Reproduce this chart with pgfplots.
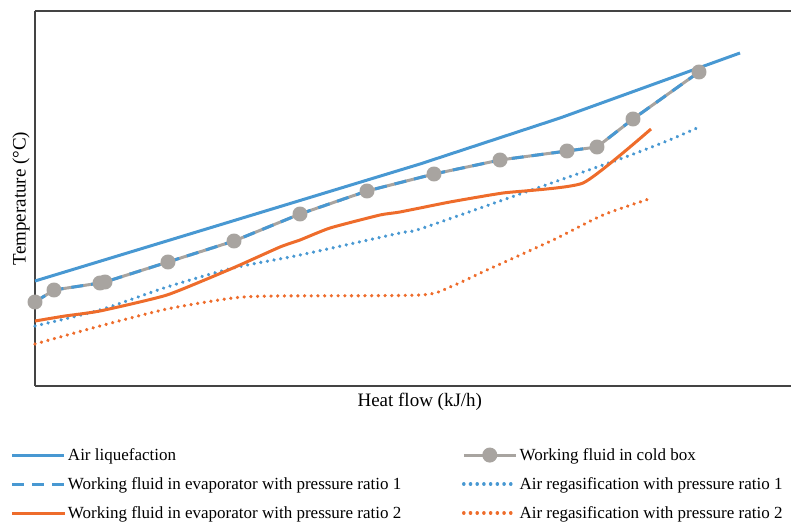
\documentclass[border=0pt]{standalone}
\usepackage{pgfplots}
\pgfplotsset{compat=1.18}
\usepackage{fontspec}
\setmainfont{Liberation Serif}
\definecolor{cblue}{RGB}{72,152,210}
\definecolor{corange}{RGB}{238,108,43}
\definecolor{cgray}{RGB}{168,164,160}
\definecolor{cspine}{RGB}{68,68,68}
\tikzset{mydots/.style={line width=3.6pt, line cap=round, dash pattern=on 0.01pt off 6.7pt}}
\begin{document}
\begin{tikzpicture}[x=1pt,y=1pt]
\useasboundingbox (0,0) rectangle (791,524);
\begin{axis}[
 at={(35pt,138pt)}, anchor=south west,
 scale only axis, width=756pt, height=375pt,
 xmin=0, xmax=756, ymin=0, ymax=375,
 axis x line=box, axis y line=left,
 axis line style={-, draw=cspine, line width=1.5pt},
 xtick=\empty, ytick=\empty,
 xlabel={Heat flow (kJ/h)}, ylabel={Temperature (°C)},
 every axis x label/.style={at={(axis description cs:0.509,-0.043)}, anchor=center, font=\fontsize{19}{22}\selectfont},
 every axis y label/.style={at={(axis description cs:-0.0185,0.5)}, rotate=90, anchor=center, font=\fontsize{19}{22}\selectfont},
 clip=false,
 legend columns=2,
 legend cell align=left,
 legend style={draw=none, fill=none, at={(axis description cs:-0.036,-0.155)}, anchor=north west,
   font=\fontsize{17}{20}\selectfont, row sep=11.5pt},
 legend image code/.code={\draw[mark repeat=2,mark phase=2,#1] plot coordinates {(0pt,0pt) (26pt,0pt) (52pt,0pt)};},
]
\addplot[cblue, line width=3pt, line join=round] coordinates {(0,105)(168,156)(385,222)(525,268)(705,333)};
\addlegendentry{\makebox[392pt][l]{Air liquefaction}}
\addplot[cgray, line width=3pt, line join=round, mark=*, mark size=6pt, mark options={solid, fill=cgray, draw=none}] coordinates {(0,84)(19,96)(65,103)(70,104)(133,124)(199,145)(265,172)(332,195)(399,212)(465,226)(532,235)(562,239)(598,267)(664,314)};
\addlegendentry{Working fluid in cold box}
\addplot[cblue, line width=3pt, line join=round, dash pattern=on 12pt off 8pt] coordinates {(0,84)(19,96)(65,103)(70,104)(133,124)(199,145)(265,172)(332,195)(399,212)(465,226)(532,235)(562,239)(598,267)(664,314)};
\addlegendentry{\makebox[392pt][l]{Working fluid in evaporator with pressure ratio 1}}
\addplot[cblue, mydots, smooth, tension=0.4] coordinates {(0,60)(65,76)(132,99)(198,118)(265,131)(365,153)(385,157)(485,192)(585,227)(632,245)(662,258)};
\addlegendentry{Air regasification with pressure ratio 1}
\addplot[corange, line width=3pt, line join=round, smooth, tension=0.3] coordinates {(0,65)(30,70)(65,75)(132,91)(198,118)(245,139)(265,146)(295,158)(345,171)(365,174)(415,184)(468,193)(548,203)(616,257)};
\addlegendentry{\makebox[392pt][l]{Working fluid in evaporator with pressure ratio 2}}
\addplot[corange, mydots, smooth, tension=0.4] coordinates {(0,42)(65,60)(132,77)(198,88)(240,90)(385,91)(415,99)(452,116)(518,146)(568,171)(614,187)};
\addlegendentry{Air regasification with pressure ratio 2}
\end{axis}
\end{tikzpicture}
\end{document}
